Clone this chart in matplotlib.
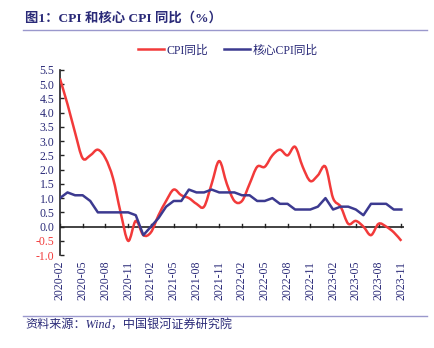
import matplotlib
matplotlib.use("Agg")
import matplotlib.pyplot as plt
from matplotlib.path import Path
from matplotlib.patches import PathPatch
from matplotlib.lines import Line2D

plt.rcParams['font.family'] = ['Liberation Serif', 'Noto Sans CJK SC']

months = ['2020-02', '2020-03', '2020-04', '2020-05', '2020-06', '2020-07', '2020-08',
          '2020-09', '2020-10', '2020-11', '2020-12',
          '2021-01', '2021-02', '2021-03', '2021-04', '2021-05', '2021-06', '2021-07',
          '2021-08', '2021-09', '2021-10', '2021-11', '2021-12',
          '2022-01', '2022-02', '2022-03', '2022-04', '2022-05', '2022-06', '2022-07',
          '2022-08', '2022-09', '2022-10', '2022-11', '2022-12',
          '2023-01', '2023-02', '2023-03', '2023-04', '2023-05', '2023-06', '2023-07',
          '2023-08', '2023-09', '2023-10', '2023-11']
cpi = [5.2, 4.3, 3.3, 2.4, 2.5, 2.7, 2.4, 1.7, 0.5, -0.5, 0.2,
       -0.3, -0.2, 0.4, 0.9, 1.3, 1.1, 1.0, 0.8, 0.7, 1.5, 2.3, 1.5,
       0.9, 0.9, 1.5, 2.1, 2.1, 2.5, 2.7, 2.5, 2.8, 2.1, 1.6, 1.8,
       2.1, 1.0, 0.7, 0.1, 0.2, 0.0, -0.3, 0.1, 0.0, -0.2, -0.5]
core = [1.0, 1.2, 1.1, 1.1, 0.9, 0.5, 0.5, 0.5, 0.5, 0.5, 0.4,
        -0.3, 0.0, 0.3, 0.7, 0.9, 0.9, 1.3, 1.2, 1.2, 1.3, 1.2, 1.2,
        1.2, 1.1, 1.1, 0.9, 0.9, 1.0, 0.8, 0.8, 0.6, 0.6, 0.6, 0.7,
        1.0, 0.6, 0.7, 0.7, 0.6, 0.4, 0.8, 0.8, 0.8, 0.6, 0.6]
yticks = [-1.0, -0.5, 0.0, 0.5, 1.0, 1.5, 2.0, 2.5, 3.0, 3.5, 4.0, 4.5, 5.0, 5.5]

red = '#f23a3a'
navy = '#3c3a90'
text_navy = '#2a2a78'
rule = '#9a98cc'


def smooth_path(xs, ys):
    # catmull-rom style bezier through the data points
    verts = [(xs[0], ys[0])]
    codes = [Path.MOVETO]
    n = len(xs)
    for i in range(n - 1):
        x0, y0 = (xs[i - 1], ys[i - 1]) if i > 0 else (xs[i], ys[i])
        x1, y1 = xs[i], ys[i]
        x2, y2 = xs[i + 1], ys[i + 1]
        x3, y3 = (xs[i + 2], ys[i + 2]) if i + 2 < n else (x2, y2)
        verts += [(x1 + (x2 - x0) / 6, y1 + (y2 - y0) / 6),
                  (x2 - (x3 - x1) / 6, y2 - (y3 - y1) / 6),
                  (x2, y2)]
        codes += [Path.CURVE4] * 3
    return Path(verts, codes)


fig = plt.figure(figsize=(4.34, 3.48), dpi=100)
ax = fig.add_axes([0.138, 0.267, 0.792, 0.532])

x = list(range(len(months)))
ax.add_patch(PathPatch(smooth_path(x, cpi), fill=False, edgecolor=red, lw=1.8, zorder=3))
ax.plot(x, core, color=navy, lw=1.8, zorder=4)

ax.set_xlim(0, 45.3)
ax.set_ylim(-1.0, 5.5)

for s in ['top', 'right', 'bottom']:
    ax.spines[s].set_visible(False)
ax.spines['left'].set_color('#222222')
ax.spines['left'].set_linewidth(1.2)
ax.axhline(0, color='#222222', lw=1.2, zorder=2)

ax.set_yticks(yticks)
ax.set_yticklabels(['%.1f' % v for v in yticks], fontsize=8.5)
for lab, v in zip(ax.get_yticklabels(), yticks):
    lab.set_color(red if v < 0 else text_navy)
ax.tick_params(axis='y', direction='in', length=3, width=1, color='#222222', pad=4)

ax.set_xticks(x[::3])
ax.set_xticklabels(months[::3], rotation=90, fontsize=8.5, color=text_navy)
ax.tick_params(axis='x', length=0, pad=4)
for xi in x[::3]:
    ax.plot([xi, xi], [0, 0.1], color='#222222', lw=1, zorder=2)

fig.text(0.058, 0.948, '图1：CPI 和核心 CPI 同比（%）', fontsize=9.6, fontweight='bold',
         color=text_navy, va='center', ha='left')
fig.add_artist(Line2D([0.053, 0.984], [0.913, 0.913], color=rule, lw=1))
fig.add_artist(Line2D([0.053, 0.984], [0.092, 0.092], color=rule, lw=1))
fig.text(0.058, 0.065, '资料来源：Wind，中国银河证券研究院', fontsize=8.7, style='italic',
         color=text_navy, va='center', ha='left')

handles = [Line2D([], [], color=red, lw=1.8), Line2D([], [], color=navy, lw=1.8)]
fig.legend(handles, ['CPI同比', '核心CPI同比'], loc='center', bbox_to_anchor=(0.525, 0.855),
           ncol=2, frameon=False, fontsize=8.5, handlelength=2.2, handletextpad=0.2,
           columnspacing=1.4, labelcolor=text_navy)

fig.savefig('out.png', dpi=100)
